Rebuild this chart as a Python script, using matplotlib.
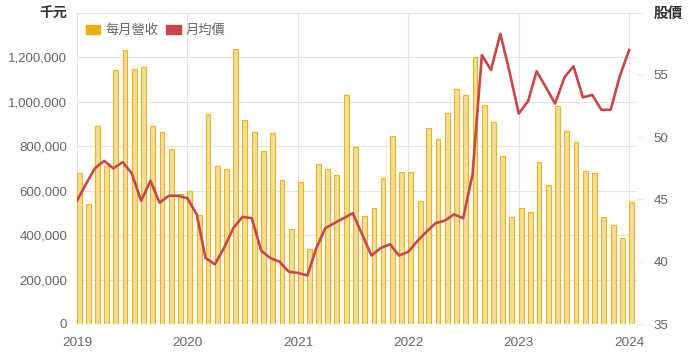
import matplotlib
matplotlib.use("Agg")
import matplotlib.pyplot as plt
import matplotlib.dates as mdates
from matplotlib.patches import Patch
import numpy as np

plt.rcParams['font.family'] = ['Liberation Sans', 'Noto Sans CJK TC', 'DejaVu Sans']

months = np.arange(np.datetime64('2019-01'), np.datetime64('2024-02'), np.timedelta64(1, 'M'))
revenue_k = [
    677, 539, 890, 710, 1141, 1231, 1146, 1155, 889, 865, 787, 585,
    598, 489, 944, 709, 697, 1236, 917, 862, 778, 857, 647, 426,
    638, 339, 718, 697, 670, 1032, 796, 484, 521, 655, 845, 682,
    682, 551, 881, 832, 949, 1056, 1029, 1201, 983, 908, 755, 482,
    520, 503, 727, 623, 979, 868, 818, 688, 680, 480, 444, 386,
    547,
]
price = [
    44.9, 46.3, 47.5, 48.1, 47.5, 48.0, 47.1, 44.9, 46.5, 44.75, 45.3, 45.3,
    45.1, 43.8, 40.3, 39.8, 41.1, 42.7, 43.6, 43.5, 40.9, 40.3, 40.0, 39.2,
    39.1, 38.9, 41.0, 42.7, 43.1, 43.5, 43.9, 42.2, 40.5, 41.1, 41.4, 40.5,
    40.8, 41.7, 42.4, 43.1, 43.3, 43.8, 43.5, 47.0, 56.6, 55.4, 58.3, 55.3,
    51.9, 52.9, 55.3, 54.0, 52.7, 54.8, 55.7, 53.2, 53.4, 52.2, 52.2, 54.9,
    57.0,
]
left_ticks = [0, 200000, 400000, 600000, 800000, 1000000, 1200000, 1400000]
left_labels = ['0', '200,000', '400,000', '600,000', '800,000', '1,000,000', '1,200,000', '千元']
right_ticks = [35, 40, 45, 50, 55, 60]
right_labels = ['35', '40', '45', '50', '55', '股價']
year_ticks = ['2019', '2020', '2021', '2022', '2023', '2024']

dates = months.astype('datetime64[D]').astype(object)
revenue = np.array(revenue_k) * 1000

W, H = 692, 358
fig = plt.figure(figsize=(W / 100, H / 100), dpi=100)
ax = fig.add_axes([77 / W, (H - 324) / H, (637 - 77) / W, (324 - 12.7) / H])

gold = '#e6b10a'
fill = '#f7dc98'
edge = '#e8b61e'
red = '#c8474a'
grid = '#e3e3e3'
txt = '#666666'

ax.bar(dates, revenue, width=16, align='edge', color=fill, edgecolor=edge, linewidth=0.8, zorder=2)
ax.set_ylim(0, 1400000)
ax.set_xlim(mdates.date2num(np.datetime64('2019-01-01')), mdates.date2num(np.datetime64('2024-01-27')))
ax.set_yticks(left_ticks)
ax.set_yticklabels(left_labels)
yr_dates = [np.datetime64(y + '-01-01') for y in year_ticks]
ax.set_xticks([mdates.date2num(d) for d in yr_dates])
ax.set_xticklabels(year_ticks)
ax.grid(True, color=grid, linewidth=0.8)
ax.set_axisbelow(True)
for s in ax.spines.values():
    s.set_visible(False)
ax.tick_params(axis='both', length=0, colors=txt, labelsize=9.5)
ax.tick_params(axis='y', pad=7)
ax.tick_params(axis='x', pad=9, labelsize=9.7)
lab = ax.get_yticklabels()[-1]
lab.set_color('#333333'); lab.set_fontweight('bold'); lab.set_fontsize(10)

ax2 = ax.twinx()
ax2.plot(dates, price, color=red, linewidth=1.9, zorder=3)
ax2.set_ylim(35, 60)
ax2.set_yticks(right_ticks)
ax2.set_yticklabels(right_labels)
for s in ax2.spines.values():
    s.set_visible(False)
ax2.tick_params(axis='y', length=4, color=grid, colors=txt, labelsize=9.5, pad=8)
ax2.tick_params(axis='y', color=grid)
lab2 = ax2.get_yticklabels()[-1]
lab2.set_color('#333333'); lab2.set_fontweight('bold'); lab2.set_fontsize(10.5)

handles = [Patch(facecolor=gold, edgecolor=gold, label='每月營收'),
           Patch(facecolor=red, edgecolor=red, label='月均價')]
leg = ax.legend(handles=handles, loc='upper left', bbox_to_anchor=(-0.006, 1.0), ncol=2, frameon=False,
                handlelength=1.1, handleheight=0.75, handletextpad=0.4, columnspacing=0.6,
                fontsize=9.5, labelcolor=txt)
leg.set_zorder(5)

fig.savefig('out.png', dpi=100)
